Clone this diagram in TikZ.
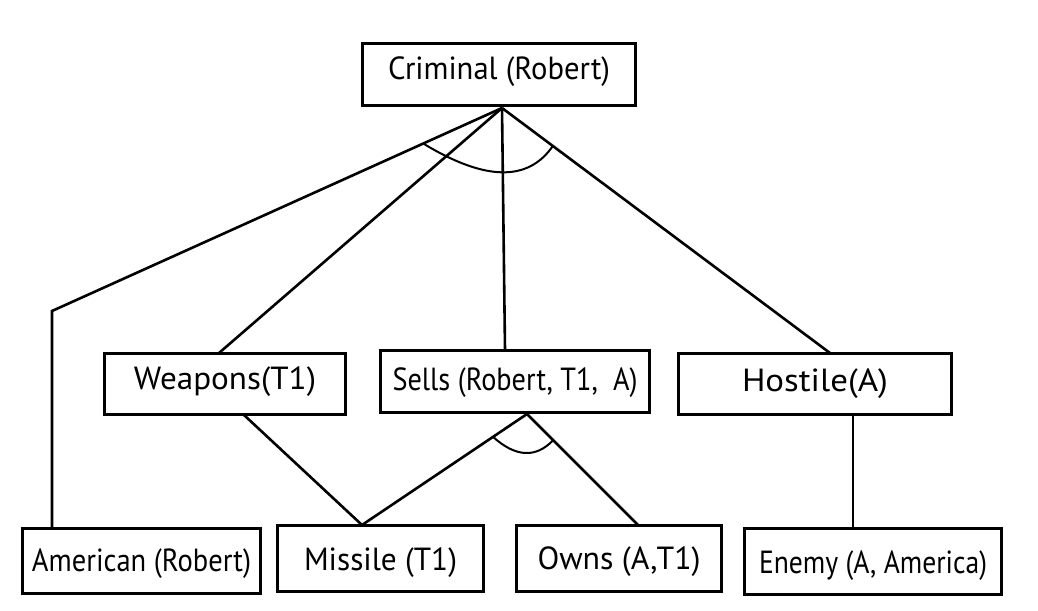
\documentclass[tikz,border=0pt]{standalone}
\usepackage{fontspec}
\setmainfont{PT Sans}
\usepackage{graphicx}
\usetikzlibrary{calc}
\newcommand\sqtext[3]{\raisebox{#2pt}[\height][\depth]{\resizebox{#1pt}{\height}{#3}}}
\tikzset{
  box/.style={draw, line width=2.8pt, inner sep=0pt, font=\fontsize{32}{36}\selectfont},
  link/.style={line width=2.6pt},
  andarc/.style={line width=2pt}
}
\begin{document}
\begin{tikzpicture}[x=1pt,y=-1pt]
\useasboundingbox (0,0) rectangle (1038,610);
% boxes
\node[box, minimum width=273pt, minimum height=62pt] (crim) at (499,74.5) {\sqtext{222}{2.4}{Criminal (Robert)}};
\node[box, minimum width=241pt, minimum height=61pt] (weap) at (225,384) {\sqtext{182}{2.4}{Weapons(T1)}};
\node[box, minimum width=269pt, minimum height=62pt] (sells) at (515,381.5) {\sqtext{245}{-1.5}{Sells (Robert, T1,\ \ A)}};
\node[box, minimum width=273pt, minimum height=61pt] (host) at (815,384) {\sqtext{146}{0}{Hostile(A)}};
\node[box, minimum width=238pt, minimum height=65pt] (amer) at (141.5,561) {\sqtext{219}{-3}{American (Robert)}};
\node[box, minimum width=206pt, minimum height=66pt] (miss) at (380.5,558.5) {\sqtext{153}{-4}{Missile (T1)}};
\node[box, minimum width=205pt, minimum height=66pt] (owns) at (619,558.5) {\sqtext{163}{-3}{Owns (A,T1)}};
\node[box, minimum width=257pt, minimum height=66pt] (enemy) at (873,561.5) {\sqtext{228}{-4}{Enemy (A, America)}};
% connection points
\coordinate (capex) at (502,108);
\coordinate (bend) at (52,311);
\coordinate (weapT) at (219,353);
\coordinate (sellsT) at (505,350);
\coordinate (hostT) at (830,353);
\coordinate (weapB) at (244,415);
\coordinate (sapex) at (527,414);
\coordinate (missT) at (362,525);
\coordinate (ownsT) at (638,525);
\coordinate (hostB) at (853,415);
% connectors
\draw[link, line join=miter] (capex) -- (bend) -- (bend |- amer.north);
\draw[link] (capex) -- (weapT);
\draw[link] (capex) -- (sellsT);
\draw[link] (capex) -- (hostT);
\draw[link] (weapB) -- (missT);
\draw[link] (sapex) -- (missT);
\draw[link] (sapex) -- (ownsT);
\draw[link] (hostB) -- (hostB |- enemy.north);
% AND arcs
\draw[andarc] ($(capex)!0.175!(bend)$) .. controls (485,181) and (528,182) .. ($(capex)!0.155!(hostT)$);
\draw[andarc] ($(sapex)!0.206!(missT)$) .. controls (515.7,457.3) and (535.7,458.3) .. ($(sapex)!0.236!(ownsT)$);
\end{tikzpicture}
\end{document}
